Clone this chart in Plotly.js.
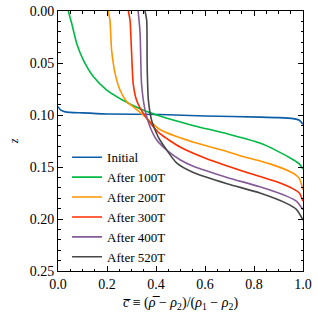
<!DOCTYPE html>
<html><head><meta charset="utf-8">
<script src="https://cdn.plot.ly/plotly-3.0.1.min.js"></script>
</head><body style="margin:0;background:#fff"><div id="chart" style="width:319px;height:319px"></div>
<script>
const names = ["Initial","After 100T","After 200T","After 300T","After 400T","After 520T"];
const colors = ["#0C5DA5","#00B945","#FF9500","#FF2C00","#845B97","#474747"];

const c_init = [0.0,0.01,0.03,0.1,0.2,0.416,0.6,0.824,0.9,0.96,0.985,1.0];
const z_init = [0.092,0.095,0.097,0.098,0.099,0.0995,0.101,0.102,0.1025,0.1035,0.105,0.109];

const c_100 = [0.042,0.056,0.076,0.103,0.144,0.199,0.267,0.335,0.416,0.55,0.69,0.824,0.89,0.96,0.985,1.0];
const z_100 = [0.0,0.012,0.031,0.047,0.063,0.076,0.086,0.094,0.101,0.110,0.118,0.127,0.134,0.143,0.147,0.152];

const c_200 = [0.205,0.212,0.219,0.233,0.253,0.28,0.306,0.347,0.416,0.55,0.69,0.755,0.865,0.96,0.985,1.0];
const z_200 = [0.0,0.009,0.038,0.06,0.076,0.087,0.092,0.100,0.114,0.126,0.135,0.140,0.147,0.156,0.161,0.172];

const c_300 = [0.287,0.294,0.3,0.307,0.321,0.347,0.388,0.416,0.5,0.607,0.755,0.89,0.96,0.985,1.0];
const z_300 = [0.0,0.009,0.038,0.07,0.086,0.098,0.111,0.118,0.131,0.142,0.154,0.164,0.171,0.175,0.183];

const c_400 = [0.327,0.335,0.341,0.355,0.375,0.403,0.45,0.498,0.55,0.69,0.824,0.933,0.974,1.0];
const z_400 = [0.0,0.021,0.07,0.095,0.111,0.124,0.135,0.143,0.149,0.160,0.169,0.178,0.183,0.191];

const c_520 = [0.355,0.362,0.364,0.369,0.382,0.403,0.416,0.484,0.55,0.69,0.824,0.933,0.974,1.0];
const z_520 = [0.0,0.009,0.054,0.086,0.105,0.118,0.124,0.146,0.155,0.166,0.175,0.185,0.191,0.201];

const xs = [c_init,c_100,c_200,c_300,c_400,c_520];
const zs = [z_init,z_100,z_200,z_300,z_400,z_520];

const traces = names.map((n,i)=>({
  x: xs[i], y: zs[i], name: n, type:'scatter', mode:'lines',
  line:{color:colors[i], width:1.6, shape:'spline', smoothing:0.6}
}));

const FAM = 'Liberation Serif';
const mkFont = (s) => ({family:FAM, size:s, color:'#000000'});
const mkAxis = () => ({
  showgrid:false, zeroline:false, showline:true, linecolor:'#000000', linewidth:1,
  mirror:'ticks', ticks:'inside', ticklen:5, tickwidth:1, tickcolor:'#000000',
  tickfont:mkFont(14)
});
const layout = {
  width:319, height:319,
  margin:{l:58, r:16, t:11, b:48},
  paper_bgcolor:'#ffffff', plot_bgcolor:'#ffffff',
  font:mkFont(14),
  showlegend:true,
  legend:{x:0.037, y:0.495, xanchor:'left', yanchor:'top', bgcolor:'rgba(0,0,0,0)',
          font:mkFont(13), itemwidth:30, tracegroupgap:0},
  xaxis:Object.assign(mkAxis(), {
    range:[0,1], dtick:0.2, tick0:0, tickformat:'.1f',
    minor:{ticks:'inside', dtick:0.05, ticklen:2.5, tickwidth:1, tickcolor:'#000000'},
    title:{text:'<i>c̅</i> ≡ (<i>ρ̅</i> − <i>ρ</i><sub>2</sub>)/(<i>ρ</i><sub>1</sub> − <i>ρ</i><sub>2</sub>)', font:mkFont(14), standoff:6}
  }),
  yaxis:Object.assign(mkAxis(), {
    range:[0.25,0], dtick:0.05, tick0:0, tickformat:'.2f',
    minor:{ticks:'inside', dtick:0.01, ticklen:2.5, tickwidth:1, tickcolor:'#000000'},
    title:{text:'<i>z</i>', font:mkFont(12), standoff:8}
  })
};
Plotly.newPlot('chart', traces, layout, {displayModeBar:false});
</script></body></html>
